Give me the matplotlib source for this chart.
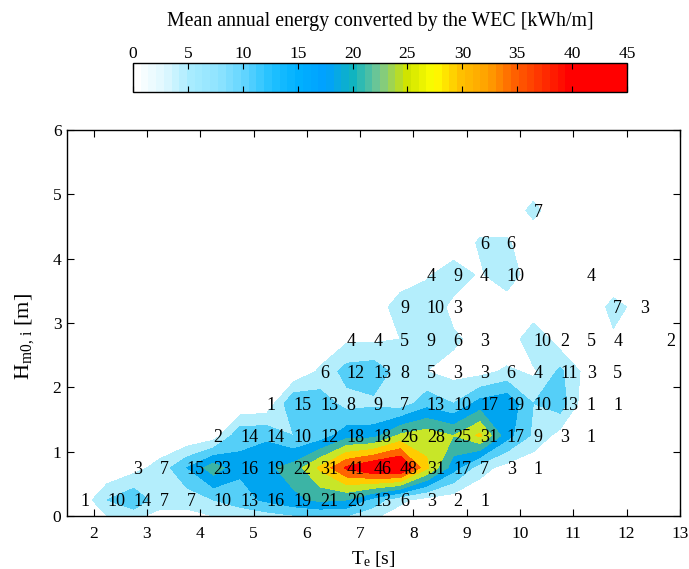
import numpy as np
import matplotlib.pyplot as plt
from matplotlib.colors import LinearSegmentedColormap, Normalize
from matplotlib.cm import ScalarMappable

plt.rcParams['font.family'] = 'Liberation Serif'
plt.rcParams['mathtext.fontset'] = 'custom'
plt.rcParams['mathtext.rm'] = 'Liberation Serif'
plt.rcParams['mathtext.it'] = 'Liberation Serif:italic'

# bin centres: energy period Te [s] and wave height Hm0 [m]
te_bins = [1.75, 2.25, 2.75, 3.25, 3.75, 4.25, 4.75, 5.25, 5.75, 6.25, 6.75, 7.25,
           7.75, 8.25, 8.75, 9.25, 9.75, 10.25, 10.75, 11.25, 11.75, 12.25, 12.75]
hm0_bins = [0.25, 0.75, 1.25, 1.75, 2.25, 2.75, 3.25, 3.75, 4.25, 4.75]

# mean annual energy per sea state [kWh/m], one row per Hm0 bin (0 = empty bin)
row_025 = [1, 10, 14, 7, 7, 10, 13, 16, 19, 21, 20, 13, 6, 3, 2, 1, 0, 0, 0, 0, 0, 0, 0]
row_075 = [0, 0, 3, 7, 15, 23, 16, 19, 22, 31, 41, 46, 48, 31, 17, 7, 3, 1, 0, 0, 0, 0, 0]
row_125 = [0, 0, 0, 0, 0, 2, 14, 14, 10, 12, 18, 18, 26, 28, 25, 31, 17, 9, 3, 1, 0, 0, 0]
row_175 = [0, 0, 0, 0, 0, 0, 0, 1, 15, 13, 8, 9, 7, 13, 10, 17, 19, 10, 13, 1, 1, 0, 0]
row_225 = [0, 0, 0, 0, 0, 0, 0, 0, 0, 6, 12, 13, 8, 5, 3, 3, 6, 4, 11, 3, 5, 0, 0]
row_275 = [0, 0, 0, 0, 0, 0, 0, 0, 0, 0, 4, 4, 5, 9, 6, 3, 0, 10, 2, 5, 4, 0, 2]
row_325 = [0, 0, 0, 0, 0, 0, 0, 0, 0, 0, 0, 0, 9, 10, 3, 0, 0, 0, 0, 0, 7, 3, 0]
row_375 = [0, 0, 0, 0, 0, 0, 0, 0, 0, 0, 0, 0, 0, 4, 9, 4, 10, 0, 0, 4, 0, 0, 0]
row_425 = [0, 0, 0, 0, 0, 0, 0, 0, 0, 0, 0, 0, 0, 0, 0, 6, 6, 0, 0, 0, 0, 0, 0]
row_475 = [0, 0, 0, 0, 0, 0, 0, 0, 0, 0, 0, 0, 0, 0, 0, 0, 0, 7, 0, 0, 0, 0, 0]

levels = [0, 5, 10, 15, 20, 25, 30, 35, 40, 45, 50]
fill_colours = ['#ffffff', '#b4eefc', '#55cff8', '#00a5f0', '#3cb4a5',
                '#c8e628', '#ffcc00', '#ff6400', '#ff0000', '#ff0000']

# colour bar stops (value, colour)
bar_values = [0, 2.5, 5, 7.5, 10, 12.5, 15, 17.5, 20, 22.5, 25, 27.5, 30, 32.5, 35, 37.5, 40, 45]
bar_colours = ['#ffffff', '#e0f8ff', '#a8ecff', '#90e4ff', '#60d4ff', '#20c0ff', '#00b0ff',
               '#00a0ff', '#10b4c0', '#78c890', '#d0e400', '#ffff00', '#ffc000', '#ffa000',
               '#ff6000', '#ff3000', '#ff0000', '#ff0000']

energy = np.array([row_025, row_075, row_125, row_175, row_225,
                   row_275, row_325, row_375, row_425, row_475], dtype=float)

# pad the grid with a ring of empty bins so the contours close
x = np.concatenate([[te_bins[0] - 0.5], te_bins, [te_bins[-1] + 0.5]])
y = np.concatenate([[hm0_bins[0] - 0.5], hm0_bins, [hm0_bins[-1] + 0.5]])
z = np.pad(energy, 1)
X, Y = np.meshgrid(x, y)

fig = plt.figure(figsize=(6.89, 5.69), dpi=100)
ax = fig.add_axes([0.0972, 0.0931, 0.8897, 0.6784])

ax.contourf(X, Y, z, levels=levels, colors=fill_colours)

for j, h in enumerate(hm0_bins):
    for i, t in enumerate(te_bins):
        v = energy[j, i]
        if v > 0:
            ax.text(t, h, '%d' % v, ha='left', va='center_baseline', fontsize=13)

ax.set_xlim(1.5, 13)
ax.set_ylim(0, 6)
ax.set_xticks(range(2, 14))
ax.set_yticks(range(0, 7))
ax.tick_params(direction='in', top=True, right=True, length=5, width=0.8, labelsize=12.5)
ax.tick_params(axis='x', pad=7)
ax.tick_params(axis='y', pad=4)
for s in ax.spines.values():
    s.set_linewidth(1)

ax.set_xlabel(r'T$_{\mathrm{e}}$ [s]', fontsize=14)
ax.set_ylabel(r'H$_{\mathrm{m0,\,i}}$ [m]', fontsize=16)
ax.xaxis.set_label_coords(0.5, -0.085)
ax.yaxis.set_label_coords(-0.05, 0.465)

# colour bar above the chart
cmap = LinearSegmentedColormap.from_list(
    'wec', [(v / 45, c) for v, c in zip(bar_values, bar_colours)], N=64)
norm = Normalize(0, 45)
cax = fig.add_axes([0.193, 0.8383, 0.717, 0.051])
cb = fig.colorbar(ScalarMappable(norm=norm, cmap=cmap), cax=cax,
                  orientation='horizontal', ticks=range(0, 50, 5))
cax.tick_params(direction='in', top=True, bottom=True, labeltop=True,
                labelbottom=False, length=4, width=0.8, labelsize=12.5, pad=1)
cb.outline.set_linewidth(1)
cax.xaxis.set_label_position('top')
cax.set_xlabel('Mean annual energy converted by the WEC [kWh/m]', fontsize=14.3, labelpad=14)

fig.savefig('out.png', dpi=100)
